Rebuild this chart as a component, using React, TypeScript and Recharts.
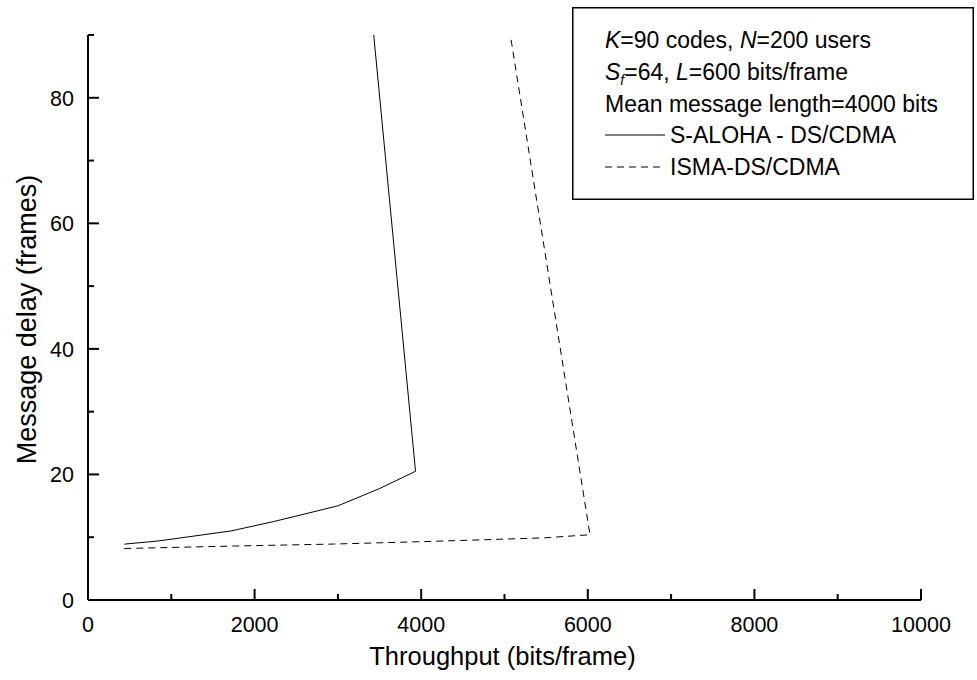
import React from 'react';
import { LineChart, Line, XAxis, YAxis, Legend } from 'recharts';

// ---- data ----
const seriesNames = ['S-ALOHA - DS/CDMA', 'ISMA-DS/CDMA'];

const sAlohaThroughput = [436, 842, 1718, 2231, 3000, 3491, 3932, 3430];
const sAlohaDelay = [8.9, 9.4, 11.0, 12.5, 15.0, 17.7, 20.5, 90];

const ismaThroughput = [436, 1761, 2915, 4026, 5479, 6026, 5070];
const ismaDelay = [8.2, 8.6, 8.9, 9.3, 9.9, 10.4, 90];

const xTicks = [0, 1000, 2000, 3000, 4000, 5000, 6000, 7000, 8000, 9000, 10000];
const xLabelTicks = [0, 2000, 4000, 6000, 8000, 10000];
const yTicks = [0, 10, 20, 30, 40, 50, 60, 70, 80, 90];
const yLabelTicks = [0, 20, 40, 60, 80];

const legendNote = 'Mean message length=4000 bits';

const xTitle = 'Throughput (bits/frame)';
const yTitle = 'Message delay (frames)';

const sAlohaData = sAlohaThroughput.map((x, i) => ({ x, y: sAlohaDelay[i] }));
const ismaData = ismaThroughput.map((x, i) => ({ x, y: ismaDelay[i] }));

const FONT = '"Liberation Sans", Arial, Helvetica, sans-serif';

const XTick = (props: any) => {
  const { x, y, payload } = props;
  const major = xLabelTicks.includes(payload.value);
  const len = major ? 11 : 6;
  return (
    <g>
      <line x1={x} y1={y} x2={x} y2={y - len} stroke="#000" strokeWidth={2} />
      {major && (
        <text x={x} y={y + 32} textAnchor="middle" fontFamily={FONT} fontSize={21.5} fill="#000">
          {payload.value}
        </text>
      )}
    </g>
  );
};

const YTick = (props: any) => {
  const { x, y, payload } = props;
  const major = yLabelTicks.includes(payload.value);
  const len = major ? 11 : 6;
  return (
    <g>
      <line x1={x} y1={y} x2={x + len} y2={y} stroke="#000" strokeWidth={2} />
      {major && (
        <text x={x - 14} y={y + 8} textAnchor="end" fontFamily={FONT} fontSize={21.5} fill="#000">
          {payload.value}
        </text>
      )}
    </g>
  );
};

const LegendBox = () => {
  const fs = 23;
  const left = 33;
  const base = [41, 73, 105, 136, 168];
  return (
    <svg width={402} height={193} style={{ display: 'block' }}>
      <rect x={0.75} y={0.75} width={400.5} height={191.5} fill="#fff" stroke="#000" strokeWidth={1.5} />
      <text x={left} y={base[0]} fontFamily={FONT} fontSize={fs} fill="#000">
        <tspan fontStyle="italic">K</tspan>
        <tspan>=90 codes, </tspan>
        <tspan fontStyle="italic">N</tspan>
        <tspan>=200 users</tspan>
      </text>
      <text x={left} y={base[1]} fontFamily={FONT} fontSize={fs} fill="#000">
        <tspan fontStyle="italic">S</tspan>
        <tspan fontStyle="italic" fontSize={14} dy={5}>f</tspan>
        <tspan dy={-5}>=64, </tspan>
        <tspan fontStyle="italic">L</tspan>
        <tspan>=600 bits/frame</tspan>
      </text>
      <text x={left} y={base[2]} fontFamily={FONT} fontSize={fs} fill="#000">
        {legendNote}
      </text>
      <line x1={left} y1={base[3] - 8} x2={left + 60} y2={base[3] - 8} stroke="#000" strokeWidth={1} />
      <text x={left + 65} y={base[3]} fontFamily={FONT} fontSize={fs} fill="#000">
        {seriesNames[0]}
      </text>
      <line x1={left} y1={base[4] - 8} x2={left + 60} y2={base[4] - 8} stroke="#000" strokeWidth={1} strokeDasharray="7 5" />
      <text x={left + 65} y={base[4]} fontFamily={FONT} fontSize={fs} fill="#000">
        {seriesNames[1]}
      </text>
    </svg>
  );
};

const XTitle = (props: any) => {
  const vb = props.viewBox || {};
  return (
    <text x={vb.x + vb.width / 2 - 2} y={vb.y + 65} textAnchor="middle" fontFamily={FONT} fontSize={25.5} fill="#000">
      {xTitle}
    </text>
  );
};

const YTitle = (props: any) => {
  const vb = props.viewBox || {};
  const cx = 36;
  const cy = vb.y + vb.height / 2 + 2;
  return (
    <text x={cx} y={cy} transform={`rotate(-90, ${cx}, ${cy})`} textAnchor="middle" fontFamily={FONT} fontSize={27} fill="#000">
      {yTitle}
    </text>
  );
};

export default function App() {
  return (
    <div style={{ position: 'absolute', left: 0, top: 0, width: 977, height: 680, background: '#fff' }}>
      <LineChart width={977} height={680} margin={{ top: 35, right: 56, bottom: 0, left: 0 }}>
        <XAxis
          dataKey="x"
          type="number"
          domain={[0, 10000]}
          ticks={xTicks}
          interval={0}
          height={80}
          tickSize={0}
          tickMargin={0}
          tickLine={false}
          tick={<XTick />}
          axisLine={{ stroke: '#000', strokeWidth: 2 }}
          label={<XTitle />}
        />
        <YAxis
          dataKey="y"
          type="number"
          domain={[0, 90]}
          ticks={yTicks}
          interval={0}
          width={88}
          tickSize={0}
          tickMargin={0}
          tickLine={false}
          tick={<YTick />}
          axisLine={{ stroke: '#000', strokeWidth: 2 }}
          label={<YTitle />}
        />
        <Legend
          layout="vertical"
          align="center"
          verticalAlign="middle"
          content={<LegendBox />}
          wrapperStyle={{ position: 'absolute', left: 572, top: 7, width: 402, height: 193 }}
        />
        <Line
          data={sAlohaData}
          dataKey="y"
          name={seriesNames[0]}
          stroke="#000"
          strokeWidth={1}
          dot={false}
          isAnimationActive={false}
        />
        <Line
          data={ismaData}
          dataKey="y"
          name={seriesNames[1]}
          stroke="#000"
          strokeWidth={1}
          strokeDasharray="7 5"
          dot={false}
          isAnimationActive={false}
        />
      </LineChart>
    </div>
  );
}
